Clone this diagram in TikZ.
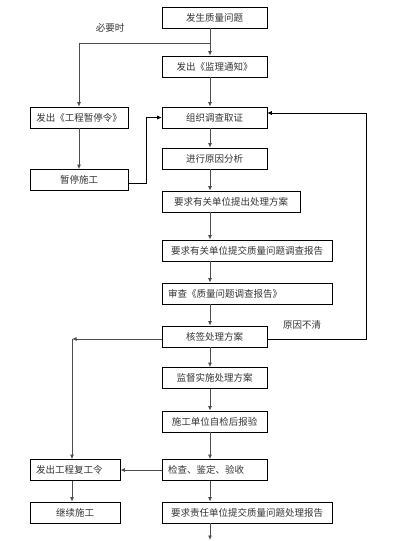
\documentclass[tikz,border=0pt]{standalone}
\usepackage{fontspec}
\newfontfamily\cjk{Noto Sans CJK SC}
\usetikzlibrary{arrows.meta}
\begin{document}
\begin{tikzpicture}[x=1pt,y=-1pt,
  box/.style={draw=black,line width=0.6pt,minimum height=21pt,inner sep=0pt,
    font=\cjk\fontsize{9.5}{11}\selectfont,text=black!80},
  lbox/.style={box,align=left,inner xsep=6pt},
  arr/.style={draw=black!70,line width=0.9pt,-{Latex[length=4.5pt,width=4pt]}},
  thin arr/.style={draw=black,line width=0.6pt,-{Latex[length=4.5pt,width=4pt]}},
  lbl/.style={font=\cjk\fontsize{9.5}{11}\selectfont,text=black!80,inner sep=0pt}]
\useasboundingbox[fill=white] (0,0) rectangle (400,541);
% main column
\node[box,minimum width=105pt] (b1) at (214.5,17.5) {发生质量问题};
\node[box,minimum width=105pt] (b2) at (214.5,66.5) {发出《监理通知》};
\node[box,minimum width=105pt] (b3) at (214.5,117.5) {组织调查取证};
\node[box,minimum width=105pt] (b4) at (214.5,158.5) {进行原因分析};
\node[box,minimum width=138pt] (b5) at (231,201.5) {要求有关单位提出处理方案};
\node[box,minimum width=170pt] (b6) at (247,250.5) {要求有关单位提交质量问题调查报告};
\node[lbox,text width=158pt] (b7) at (247,293.5) {审查《质量问题调查报告》};
\node[box,minimum width=105pt] (b8) at (214.5,336.5) {核签处理方案};
\node[box,minimum width=105pt] (b9) at (214.5,378) {监督实施处理方案};
\node[box,minimum width=105pt] (b10) at (214.5,421.5) {施工单位自检后报验};
\node[lbox,text width=93pt] (b11) at (214.5,470) {检查、鉴定、验收};
\node[box,minimum width=170pt] (b12) at (247,512.5) {要求责任单位提交质量问题处理报告};
% left column
\node[box,minimum width=98pt] (l1) at (79,117.5) {发出《工程暂停令》};
\node[box,minimum width=98pt] (l2) at (79,180) {暂停施工};
\node[lbox,text width=78pt] (l3) at (75,470) {发出工程复工令};
\node[box,minimum width=90pt] (l4) at (75,512.5) {继续施工};
% labels
\node[lbl] (t1) at (110,28) {必要时};
\node[lbl] (t2) at (302,325) {原因不清};
% spine coordinates
\coordinate (sp) at (210,0);
\coordinate (br) at (210,43);
\coordinate (lc) at (72,339);
\coordinate (c1) at (146,183);
\coordinate (c2) at (366,339);
\coordinate (c3) at (366,113);
\coordinate (hl) at (0,339);
\coordinate (bot) at (210,540);
% main arrows
\draw[arr] (b1.south -| sp) -- (b2.north -| sp);
\draw[arr] (b2.south -| sp) -- (b3.north -| sp);
\draw[arr] (b3.south -| sp) -- (b4.north -| sp);
\draw[arr] (b4.south -| sp) -- (b5.north -| sp);
\draw[arr] (b5.south -| sp) -- (b6.north -| sp);
\draw[arr] (b6.south -| sp) -- (b7.north -| sp);
\draw[arr] (b7.south -| sp) -- (b8.north -| sp);
\draw[arr] (b8.south -| sp) -- (b9.north -| sp);
\draw[arr] (b9.south -| sp) -- (b10.north -| sp);
\draw[arr] (b10.south -| sp) -- (b11.north -| sp);
\draw[arr] (b11.south -| sp) -- (b12.north -| sp);
\draw[arr] (b12.south -| sp) -- (bot);
% branch to stop order
\draw[arr] (br) -| (l1.north);
\draw[arr] (l1) -- (l2);
% stop -> investigate
\draw[thin arr] (l2.east |- c1) -- (c1) |- (b3.west);
% feedback
\draw[thin arr] (b8.east |- c2) -- (c2) -- (c3) -- (b3.east |- c3);
% to resume order
\draw[arr] (b8.west |- hl) -- (lc);
\draw[arr] (lc) -- (lc |- l3.north);
\draw[arr] (b11.west) -- (l3.east);
\draw[arr] (l3.south -| lc) -- (l4.north -| lc);
\end{tikzpicture}
\end{document}
